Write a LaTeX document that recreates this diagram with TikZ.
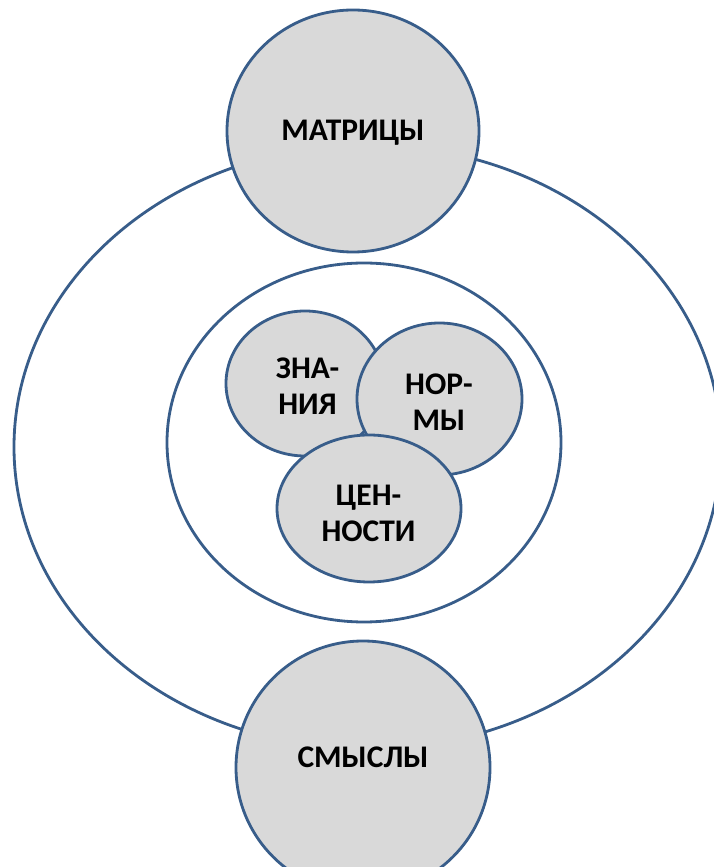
\documentclass[tikz,border=0pt]{standalone}
\usepackage{fontspec}
\setmainfont{Carlito}
\definecolor{ringblue}{HTML}{385D8A}
\definecolor{discgray}{HTML}{D9D9D9}

\begin{document}
\begin{tikzpicture}[
  ring/.style={draw=ringblue, line width=2pt},
  disc/.style={ring, fill=discgray},
  disctext/.style={font=\fontsize{22.4}{25.5}\selectfont\bfseries, align=center, inner sep=0pt}
]
\useasboundingbox (0,0) rectangle (17.825,21.675);

% Outer and inner rings
\draw[ring] (9.1875,10.5) ellipse [x radius=8.8375, y radius=7.55];
\draw[ring] (9.1,10.6125) ellipse [x radius=4.925, y radius=4.4875];

% Top and bottom discs
\draw[disc] (8.825,18.4) ellipse [x radius=3.15, y radius=3.025];
\node[disctext] (matricy) at (8.825,18.35) {МАТРИЦЫ};

\draw[disc] (9.075,2.4875) ellipse [x radius=3.175, y radius=3.1625];
\node[disctext] (smysly) at (9.075,2.7375) {СМЫСЛЫ};

% Inner discs
\draw[disc] (7.625,12.0875) ellipse [x radius=1.975, y radius=1.8125];
\node[disctext] (znaniya) at (7.6875,12.025) {ЗНА-\\НИЯ};

\draw[disc] (10.9875,11.7) ellipse [x radius=2.0625, y radius=1.9];
\node[disctext] (normy) at (10.975,11.625) {НОР-\\МЫ};

\draw[disc] (9.225,8.9625) ellipse [x radius=2.3, y radius=1.8375];
\node[disctext] (cennosti) at (9.2125,8.85) {ЦЕН-\\НОСТИ};

\end{tikzpicture}
\end{document}
